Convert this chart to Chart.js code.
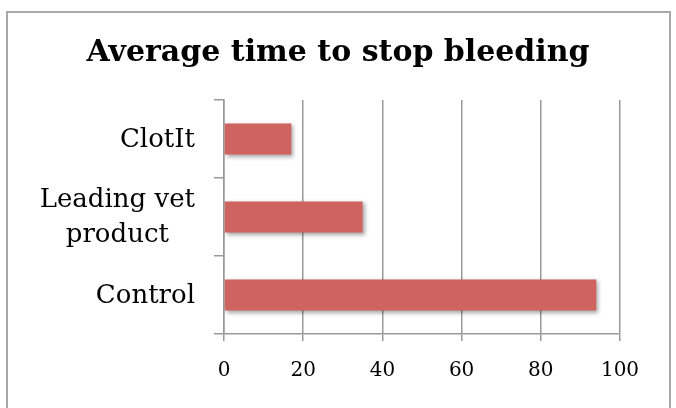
<!DOCTYPE html>
<html>
<head>
<meta charset="utf-8">
<script src="https://cdn.jsdelivr.net/npm/chart.js@4"></script>
<style>
  html, body { margin: 0; padding: 0; background: #fff; overflow: hidden; }
  #wrap { position: relative; width: 676px; height: 408px; }
  #frame { position: absolute; left: 6px; top: 11px; width: 661px; height: 420px; border: 2px solid #a9a9a9; pointer-events: none; }
</style>
</head>
<body>
<div id="wrap">
  <canvas id="myChart" width="676" height="408"></canvas>
  <div id="frame"></div>
</div>
<script>
const categories = [["ClotIt"], ["Leading vet", "product"], ["Control"]];
const times = [17, 35, 94];
const xTicks = [0, 20, 40, 60, 80, 100];

const serif = "'DejaVu Serif', 'Liberation Serif', serif";
const barColor = '#cf635f';
const gridColor = '#999999';

// bar drop shadow, like the office chart
const shadowPlugin = {
    id: 'barShadow',
    beforeDatasetsDraw(chart) {
        const ctx = chart.ctx;
        ctx.save();
        ctx.shadowColor = 'rgba(0,0,0,0.35)';
        ctx.shadowBlur = 4;
        ctx.shadowOffsetX = 2;
        ctx.shadowOffsetY = 2;
    },
    afterDatasetsDraw(chart) {
        chart.ctx.restore();
    }
};

// category labels: right aligned block, lines centred inside the block
const yLabelPlugin = {
    id: 'yLabels',
    afterDraw(chart) {
        const ctx = chart.ctx;
        const y = chart.scales.y;
        const right = 195;
        const lineH = 35;
        ctx.save();
        ctx.font = "26px " + serif;
        ctx.fillStyle = '#000';
        ctx.textBaseline = 'middle';
        ctx.textAlign = 'center';
        y.ticks.forEach((t, i) => {
            const lines = categories[i];
            const widest = Math.max(...lines.map(l => ctx.measureText(l).width));
            const cx = right - widest / 2;
            const cy = y.getPixelForTick(i) + 1;
            const top = cy - (lines.length - 1) * lineH / 2;
            lines.forEach((l, k) => ctx.fillText(l, cx, top + k * lineH));
        });
        ctx.restore();
    }
};

const ctx = document.getElementById('myChart').getContext('2d');
new Chart(ctx, {
    type: 'bar',
    data: {
        labels: categories.map(c => c.join(' ')),
        datasets: [{
            data: times,
            backgroundColor: barColor,
            borderWidth: 0,
            barPercentage: 0.4,
            categoryPercentage: 1
        }]
    },
    options: {
        indexAxis: 'y',
        responsive: false,
        animation: false,
        layout: { padding: { left: 56, right: 56, top: 0, bottom: 7 } },
        plugins: {
            legend: { display: false },
            tooltip: { enabled: false },
            title: {
                display: true,
                text: 'Average time to stop bleeding',
                color: '#000',
                font: { family: serif, size: 30, weight: 'bold' },
                padding: { top: 35, bottom: 29 }
            }
        },
        scales: {
            x: {
                min: 0,
                max: 100,
                afterBuildTicks(scale) {
                    scale.ticks = xTicks.map(v => ({ value: v }));
                },
                grid: { color: gridColor, lineWidth: 1.5, tickLength: 7 },
                border: { display: true, color: gridColor, width: 1.5 },
                ticks: {
                    color: '#000',
                    font: { family: serif, size: 20 },
                    padding: 18,
                    maxRotation: 0
                }
            },
            y: {
                grid: { drawOnChartArea: false, color: gridColor, lineWidth: 1.5, tickLength: 10, offset: true },
                border: { display: true, color: gridColor, width: 1.5 },
                ticks: { display: false },
                afterFit(scale) { scale.width = 224 - 56; }
            }
        }
    },
    plugins: [shadowPlugin, yLabelPlugin]
});
</script>
</body>
</html>
